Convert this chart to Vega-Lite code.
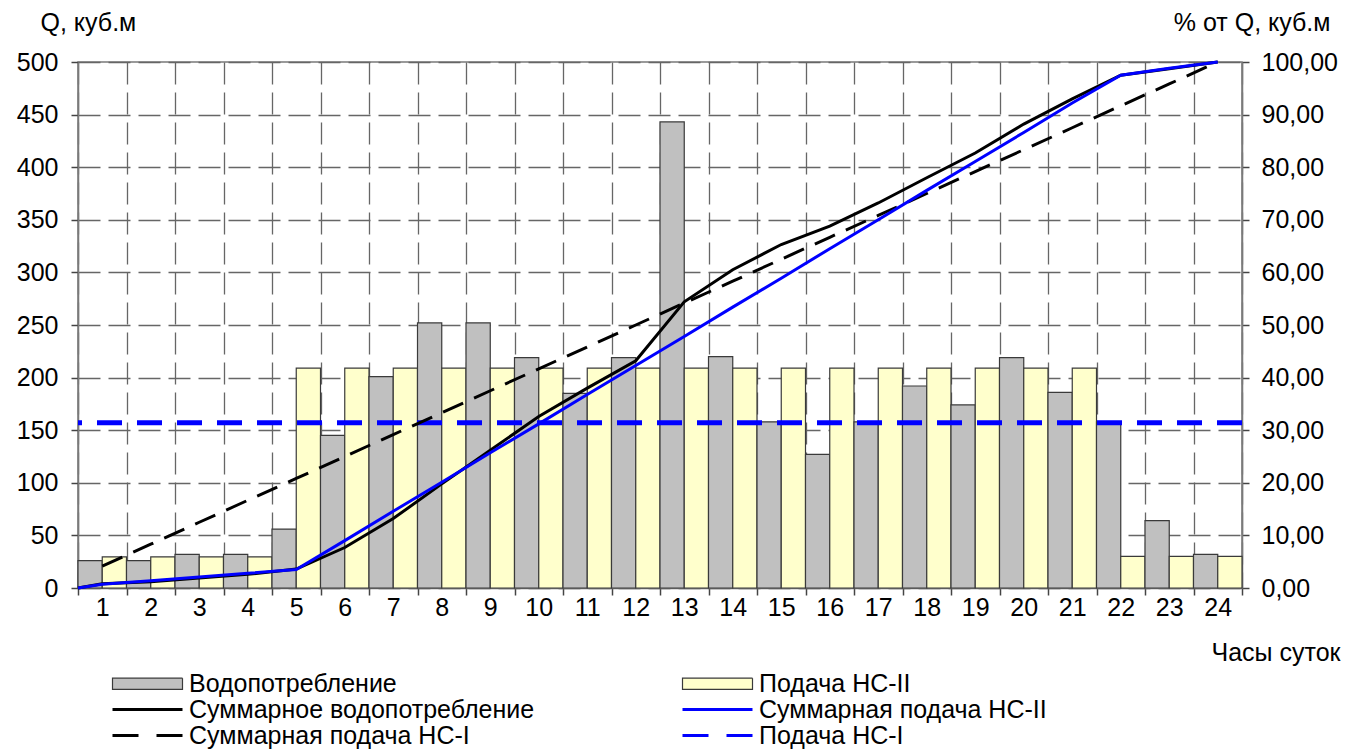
{
  "$schema": "https://vega.github.io/schema/vega-lite/v6.json",
  "width": 1164,
  "height": 526,
  "autosize": "none",
  "padding": {"left": 78, "top": 62, "right": 106, "bottom": 161},
  "background": "white",
  "config": {
    "font": "Liberation Sans",
    "view": {"stroke": "#7a7a7a", "strokeWidth": 1.5},
    "axis": {"labelColor": "#000000", "titleColor": "#000000", "labelFontSize": 25, "titleFontSize": 25, "titleFontWeight": "normal", "tickColor": "#444444", "domainColor": "#7a7a7a", "domainWidth": 1.5, "tickWidth": 1.5}
  },
  "datasets": {
    "bars": [
      {"hour": 1, "series": "Водопотребление", "q": 26}, {"hour": 1, "series": "Подача НС-II", "q": 29.5},
      {"hour": 2, "series": "Водопотребление", "q": 26}, {"hour": 2, "series": "Подача НС-II", "q": 29.5},
      {"hour": 3, "series": "Водопотребление", "q": 32}, {"hour": 3, "series": "Подача НС-II", "q": 29.5},
      {"hour": 4, "series": "Водопотребление", "q": 32}, {"hour": 4, "series": "Подача НС-II", "q": 29.5},
      {"hour": 5, "series": "Водопотребление", "q": 56}, {"hour": 5, "series": "Подача НС-II", "q": 209},
      {"hour": 6, "series": "Водопотребление", "q": 145}, {"hour": 6, "series": "Подача НС-II", "q": 209},
      {"hour": 7, "series": "Водопотребление", "q": 201}, {"hour": 7, "series": "Подача НС-II", "q": 209},
      {"hour": 8, "series": "Водопотребление", "q": 252}, {"hour": 8, "series": "Подача НС-II", "q": 209},
      {"hour": 9, "series": "Водопотребление", "q": 252}, {"hour": 9, "series": "Подача НС-II", "q": 209},
      {"hour": 10, "series": "Водопотребление", "q": 219}, {"hour": 10, "series": "Подача НС-II", "q": 209},
      {"hour": 11, "series": "Водопотребление", "q": 185}, {"hour": 11, "series": "Подача НС-II", "q": 209},
      {"hour": 12, "series": "Водопотребление", "q": 219}, {"hour": 12, "series": "Подача НС-II", "q": 209},
      {"hour": 13, "series": "Водопотребление", "q": 443}, {"hour": 13, "series": "Подача НС-II", "q": 209},
      {"hour": 14, "series": "Водопотребление", "q": 220}, {"hour": 14, "series": "Подача НС-II", "q": 209},
      {"hour": 15, "series": "Водопотребление", "q": 158}, {"hour": 15, "series": "Подача НС-II", "q": 209},
      {"hour": 16, "series": "Водопотребление", "q": 127}, {"hour": 16, "series": "Подача НС-II", "q": 209},
      {"hour": 17, "series": "Водопотребление", "q": 158}, {"hour": 17, "series": "Подача НС-II", "q": 209},
      {"hour": 18, "series": "Водопотребление", "q": 192}, {"hour": 18, "series": "Подача НС-II", "q": 209},
      {"hour": 19, "series": "Водопотребление", "q": 174}, {"hour": 19, "series": "Подача НС-II", "q": 209},
      {"hour": 20, "series": "Водопотребление", "q": 219}, {"hour": 20, "series": "Подача НС-II", "q": 209},
      {"hour": 21, "series": "Водопотребление", "q": 186}, {"hour": 21, "series": "Подача НС-II", "q": 209},
      {"hour": 22, "series": "Водопотребление", "q": 158}, {"hour": 22, "series": "Подача НС-II", "q": 30},
      {"hour": 23, "series": "Водопотребление", "q": 64}, {"hour": 23, "series": "Подача НС-II", "q": 30},
      {"hour": 24, "series": "Водопотребление", "q": 32}, {"hour": 24, "series": "Подача НС-II", "q": 30}
    ],
    "nc1": [{"series": "Подача НС-I", "q": 157}],
    "cum": [
      {"h": 0.5, "series": "Суммарное водопотребление", "p": 0},
      {"h": 1, "series": "Суммарное водопотребление", "p": 0.8},
      {"h": 2, "series": "Суммарное водопотребление", "p": 1.2},
      {"h": 3, "series": "Суммарное водопотребление", "p": 1.9},
      {"h": 4, "series": "Суммарное водопотребление", "p": 2.6},
      {"h": 5, "series": "Суммарное водопотребление", "p": 3.6},
      {"h": 6, "series": "Суммарное водопотребление", "p": 7.7},
      {"h": 7, "series": "Суммарное водопотребление", "p": 13.2},
      {"h": 8, "series": "Суммарное водопотребление", "p": 19.8},
      {"h": 9, "series": "Суммарное водопотребление", "p": 26.2},
      {"h": 10, "series": "Суммарное водопотребление", "p": 32.6},
      {"h": 11, "series": "Суммарное водопотребление", "p": 38.0},
      {"h": 12, "series": "Суммарное водопотребление", "p": 43.2},
      {"h": 13, "series": "Суммарное водопотребление", "p": 54.4},
      {"h": 14, "series": "Суммарное водопотребление", "p": 60.5},
      {"h": 15, "series": "Суммарное водопотребление", "p": 65.3},
      {"h": 16, "series": "Суммарное водопотребление", "p": 68.8},
      {"h": 17, "series": "Суммарное водопотребление", "p": 73.2},
      {"h": 18, "series": "Суммарное водопотребление", "p": 78.0},
      {"h": 19, "series": "Суммарное водопотребление", "p": 82.7},
      {"h": 20, "series": "Суммарное водопотребление", "p": 88.2},
      {"h": 21, "series": "Суммарное водопотребление", "p": 93.0},
      {"h": 22, "series": "Суммарное водопотребление", "p": 97.5},
      {"h": 23, "series": "Суммарное водопотребление", "p": 98.7},
      {"h": 24, "series": "Суммарное водопотребление", "p": 100},
      {"h": 0.5, "series": "Суммарная подача НС-II", "p": 0},
      {"h": 1, "series": "Суммарная подача НС-II", "p": 0.7},
      {"h": 2, "series": "Суммарная подача НС-II", "p": 1.4},
      {"h": 3, "series": "Суммарная подача НС-II", "p": 2.1},
      {"h": 4, "series": "Суммарная подача НС-II", "p": 2.8},
      {"h": 5, "series": "Суммарная подача НС-II", "p": 3.5},
      {"h": 6, "series": "Суммарная подача НС-II", "p": 9.0},
      {"h": 7, "series": "Суммарная подача НС-II", "p": 14.6},
      {"h": 8, "series": "Суммарная подача НС-II", "p": 20.1},
      {"h": 9, "series": "Суммарная подача НС-II", "p": 25.7},
      {"h": 10, "series": "Суммарная подача НС-II", "p": 31.2},
      {"h": 11, "series": "Суммарная подача НС-II", "p": 36.8},
      {"h": 12, "series": "Суммарная подача НС-II", "p": 42.3},
      {"h": 13, "series": "Суммарная подача НС-II", "p": 47.8},
      {"h": 14, "series": "Суммарная подача НС-II", "p": 53.4},
      {"h": 15, "series": "Суммарная подача НС-II", "p": 58.9},
      {"h": 16, "series": "Суммарная подача НС-II", "p": 64.5},
      {"h": 17, "series": "Суммарная подача НС-II", "p": 70.0},
      {"h": 18, "series": "Суммарная подача НС-II", "p": 75.6},
      {"h": 19, "series": "Суммарная подача НС-II", "p": 81.1},
      {"h": 20, "series": "Суммарная подача НС-II", "p": 86.6},
      {"h": 21, "series": "Суммарная подача НС-II", "p": 92.2},
      {"h": 22, "series": "Суммарная подача НС-II", "p": 97.5},
      {"h": 23, "series": "Суммарная подача НС-II", "p": 98.8},
      {"h": 24, "series": "Суммарная подача НС-II", "p": 100}
    ],
    "cum1": [
      {"h": 1, "series": "Суммарная подача НС-I", "p": 4.17},
      {"h": 2, "series": "Суммарная подача НС-I", "p": 8.33},
      {"h": 3, "series": "Суммарная подача НС-I", "p": 12.5},
      {"h": 4, "series": "Суммарная подача НС-I", "p": 16.67},
      {"h": 5, "series": "Суммарная подача НС-I", "p": 20.83},
      {"h": 6, "series": "Суммарная подача НС-I", "p": 25},
      {"h": 7, "series": "Суммарная подача НС-I", "p": 29.17},
      {"h": 8, "series": "Суммарная подача НС-I", "p": 33.33},
      {"h": 9, "series": "Суммарная подача НС-I", "p": 37.5},
      {"h": 10, "series": "Суммарная подача НС-I", "p": 41.67},
      {"h": 11, "series": "Суммарная подача НС-I", "p": 45.83},
      {"h": 12, "series": "Суммарная подача НС-I", "p": 50},
      {"h": 13, "series": "Суммарная подача НС-I", "p": 54.17},
      {"h": 14, "series": "Суммарная подача НС-I", "p": 58.33},
      {"h": 15, "series": "Суммарная подача НС-I", "p": 62.5},
      {"h": 16, "series": "Суммарная подача НС-I", "p": 66.67},
      {"h": 17, "series": "Суммарная подача НС-I", "p": 70.83},
      {"h": 18, "series": "Суммарная подача НС-I", "p": 75},
      {"h": 19, "series": "Суммарная подача НС-I", "p": 79.17},
      {"h": 20, "series": "Суммарная подача НС-I", "p": 83.33},
      {"h": 21, "series": "Суммарная подача НС-I", "p": 87.5},
      {"h": 22, "series": "Суммарная подача НС-I", "p": 91.67},
      {"h": 23, "series": "Суммарная подача НС-I", "p": 95.83},
      {"h": 24, "series": "Суммарная подача НС-I", "p": 100}
    ]
  },
  "layer": [
    {
      "layer": [
        {
          "data": {"name": "bars"},
          "mark": {"type": "bar", "stroke": "#3a3a3a", "strokeWidth": 1.2},
          "encoding": {
            "x": {
              "field": "hour", "type": "ordinal",
              "scale": {"paddingInner": 0, "paddingOuter": 0},
              "axis": {
                "title": "Часы суток", "titleX": 1262, "titleY": 64, "titleAlign": "right", "titleBaseline": "middle", "titleAnchor": "start",
                "tickBand": "extent", "grid": true, "gridDash": [22, 8], "gridColor": "#666666", "gridWidth": 1.3,
                "labelAngle": 0, "labelPadding": 0, "tickSize": 7
              }
            },
            "xOffset": {"field": "series", "type": "nominal", "scale": {"domain": ["Водопотребление", "Подача НС-II"], "paddingInner": 0, "paddingOuter": 0}},
            "y": {
              "field": "q", "type": "quantitative",
              "scale": {"domain": [0, 500], "nice": false},
              "axis": {
                "values": [0, 50, 100, 150, 200, 250, 300, 350, 400, 450, 500],
                "grid": true, "gridDash": [22, 8], "gridColor": "#666666", "gridWidth": 1.3,
                "title": "Q, куб.м", "titleAngle": 0, "titleX": -38, "titleY": -40, "titleAlign": "left", "titleBaseline": "middle", "titleAnchor": "start",
                "tickSize": 7, "labelPadding": 13
              }
            },
            "color": {
              "field": "series", "type": "nominal",
              "scale": {
                "domain": ["Подача НС-I", "Суммарная подача НС-I", "Суммарная подача НС-II", "Суммарное водопотребление", "Подача НС-II", "Водопотребление"],
                "range": ["#0000ff", "#000000", "#0000ff", "#000000", "#ffffcc", "#c0c0c0"]
              },
              "legend": null
            },
            "opacity": {
              "field": "series", "type": "nominal",
              "scale": {
                "type": "ordinal",
                "domain": ["Водопотребление", "Подача НС-II", "Суммарное водопотребление", "Суммарная подача НС-II", "Суммарная подача НС-I", "Подача НС-I"],
                "range": [1, 1, 1, 1, 1, 1]
              },
              "legend": {
                "orient": "none", "legendX": 57, "legendY": 609, "columns": 2, "direction": "horizontal",
                "title": null, "labelFontSize": 25, "labelColor": "#000000", "labelLimit": 800,
                "symbolSize": 196, "labelOffset": 29, "columnPadding": 141, "rowPadding": 0, "padding": 0,
                "encoding": {
                  "symbols": {
                    "shape": {"value": {"signal": "(datum.value === 'Водопотребление' || datum.value === 'Подача НС-II') ? 'M-5,-0.8H5V0.8H-5Z' : 'M-5,0H5'", "expr": "(datum.value === 'Водопотребление' || datum.value === 'Подача НС-II') ? 'M-5,-0.8H5V0.8H-5Z' : 'M-5,0H5'"}},
                    "fill": {"value": {"signal": "datum.value === 'Водопотребление' ? '#c0c0c0' : (datum.value === 'Подача НС-II' ? '#ffffcc' : 'transparent')", "expr": "datum.value === 'Водопотребление' ? '#c0c0c0' : (datum.value === 'Подача НС-II' ? '#ffffcc' : 'transparent')"}},
                    "stroke": {"value": {"signal": "(datum.value === 'Водопотребление' || datum.value === 'Подача НС-II') ? '#3a3a3a' : ((datum.value === 'Суммарная подача НС-II' || datum.value === 'Подача НС-I') ? '#0000ff' : '#000000')", "expr": "(datum.value === 'Водопотребление' || datum.value === 'Подача НС-II') ? '#3a3a3a' : ((datum.value === 'Суммарная подача НС-II' || datum.value === 'Подача НС-I') ? '#0000ff' : '#000000')"}},
                    "strokeWidth": {"value": {"signal": "(datum.value === 'Водопотребление' || datum.value === 'Подача НС-II') ? 1.2 : 3", "expr": "(datum.value === 'Водопотребление' || datum.value === 'Подача НС-II') ? 1.2 : 3"}},
                    "strokeDash": {"value": {"signal": "(datum.value === 'Суммарная подача НС-I' || datum.value === 'Подача НС-I') ? [26, 18] : [1, 0]", "expr": "(datum.value === 'Суммарная подача НС-I' || datum.value === 'Подача НС-I') ? [26, 18] : [1, 0]"}}
                  }
                }
              }
            }
          }
        },
        {
          "data": {"name": "nc1"},
          "mark": {"type": "rule", "strokeWidth": 5, "strokeDash": [25, 15]},
          "encoding": {
            "y": {"field": "q", "type": "quantitative"},
            "color": {"field": "series", "type": "nominal", "legend": null}
          }
        }
      ]
    },
    {
      "layer": [
        {
          "data": {"name": "cum1"},
          "mark": {"type": "line", "strokeWidth": 3, "strokeDash": [22, 12]},
          "encoding": {
            "x": {"field": "h", "type": "quantitative", "scale": {"domain": [0.5, 24.5], "nice": false, "zero": false}, "axis": null},
            "y": {
              "field": "p", "type": "quantitative", "scale": {"domain": [0, 100], "nice": false},
              "axis": {
                "orient": "right", "values": [0, 10, 20, 30, 40, 50, 60, 70, 80, 90, 100], "grid": false,
                "labelExpr": "replace(format(datum.value, '.2f'), '.', ',')",
                "title": "% от Q, куб.м", "titleAngle": 0, "titleX": 88, "titleY": -40, "titleAlign": "right", "titleBaseline": "middle", "titleAnchor": "start",
                "tickSize": 7, "labelPadding": 12
              }
            },
            "color": {"field": "series", "type": "nominal", "legend": null}
          }
        },
        {
          "data": {"name": "cum"},
          "mark": {"type": "line", "strokeWidth": 3},
          "encoding": {
            "x": {"field": "h", "type": "quantitative"},
            "y": {"field": "p", "type": "quantitative"},
            "color": {"field": "series", "type": "nominal", "legend": null}
          }
        }
      ]
    }
  ],
  "resolve": {"scale": {"x": "independent", "y": "independent"}}
}
